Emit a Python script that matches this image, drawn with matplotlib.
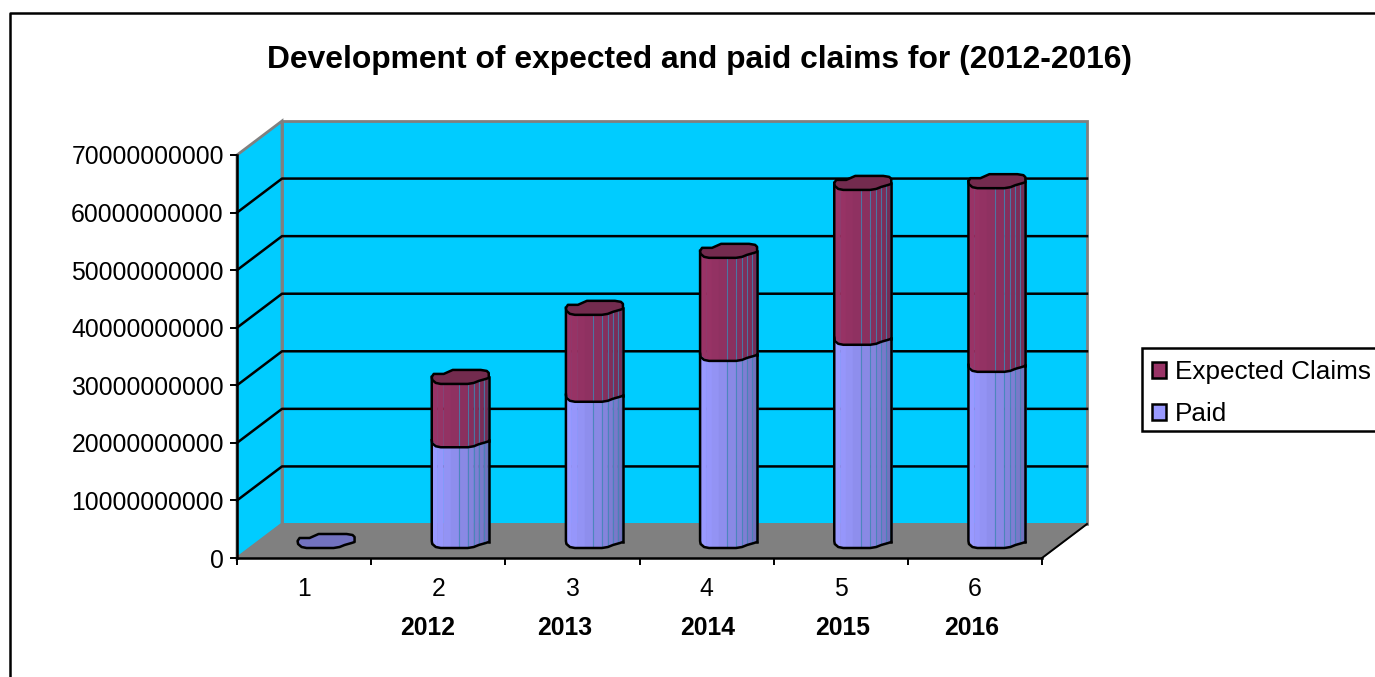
import numpy as np
import matplotlib
matplotlib.use("Agg")
import matplotlib.pyplot as plt
from matplotlib.lines import Line2D
from matplotlib.patches import Patch, Polygon, Rectangle

categories = [1, 2, 3, 4, 5, 6]
years = ["2012", "2013", "2014", "2015", "2016"]
paid = [0.0, 1.75e10, 2.54e10, 3.25e10, 3.53e10, 3.06e10]
expected_claims = [0.0, 1.10e10, 1.51e10, 1.79e10, 2.69e10, 3.19e10]
y_ticks = [0, 1e10, 2e10, 3e10, 4e10, 5e10, 6e10, 7e10]

W, H = 1375, 677
plt.rcParams["font.family"] = ["Liberation Sans", "DejaVu Sans"]

CYAN = "#00ccff"
GREY = "#808080"
PURPLE_L, PURPLE_D, PURPLE_TOP = "#993366", "#6f2b52", "#732b4e"
BLUE_L, BLUE_D, BLUE_TOP = "#9999ff", "#6c6cb4", "#7272bf"
LW = 1.8

# pixel sizes of one data unit, the plot area is 805 x 403 px
PX_X = 6 / 805
PX_Y = 7e10 / 403
DEPTH_X = 45 * PX_X
DEPTH_Y = 34 * PX_Y

# outline of the jagged cylinder, px from its centre, y pointing down
FRONT_X = np.array([-29, -28.5, -25, -20, 7, 13, 18, 25, 28, 28])
FRONT_Y = np.array([0, 3, 6, 7, 7, 6, 4, 2, 1, -4])
BACK_X = np.array([28, 26, 20, -8, -17, -27, -29])
BACK_Y = np.array([-4, -6, -7, -7, -3, -3, 0])
STRIPS = [-29, -23, -17, -10, -2, 7, 13, 18, 23, 27, 29]
SEAMS = [-2, 7, 13, 18, 23, 27]


def front_y(px):
    return np.interp(px, FRONT_X[:-1], FRONT_Y[:-1])


def draw_body(ax, cx, low, high, light, dark):
    light_c = np.array(matplotlib.colors.to_rgb(light))
    dark_c = np.array(matplotlib.colors.to_rgb(dark))
    for i in range(len(STRIPS) - 1):
        a, b = STRIPS[i], STRIPS[i + 1]
        xs = np.array([a, b, b, a])
        ys = np.array([front_y(a), front_y(b), front_y(b), front_y(a)])
        base = np.array([low, low, high, high])
        color = light_c + (dark_c - light_c) * (i / (len(STRIPS) - 2)) ** 1.3
        ax.add_patch(Polygon(np.c_[cx + xs * PX_X, base - ys * PX_Y], closed=True,
                             fc=color, ec=color, lw=0.3, clip_on=False, zorder=3))
    for s in SEAMS:
        ax.plot([cx + s * PX_X] * 2,
                [low - front_y(s) * PX_Y, high - front_y(s) * PX_Y],
                color="#3f86b4", lw=0.8, alpha=0.8, clip_on=False, zorder=3)
    # black outline: sides and the lower arc
    ox = np.r_[FRONT_X[0], FRONT_X[:-1]]
    oy = np.r_[high / PX_Y, low / PX_Y - FRONT_Y[:-1]]
    ax.plot(cx + ox * PX_X, oy * PX_Y, color="black", lw=LW, clip_on=False, zorder=4)
    ax.plot([cx + FRONT_X[-2] * PX_X] * 2, [low - FRONT_Y[-2] * PX_Y, high],
            color="black", lw=LW, clip_on=False, zorder=4)


def draw_top(ax, cx, level, color):
    xs = np.r_[FRONT_X, BACK_X]
    ys = np.r_[FRONT_Y, BACK_Y]
    ax.add_patch(Polygon(np.c_[cx + xs * PX_X, level - ys * PX_Y], closed=True,
                         fc=color, ec="black", lw=LW, joinstyle="round",
                         clip_on=False, zorder=5))


fig = plt.figure(figsize=(W / 100, H / 100), dpi=100)
ax = fig.add_axes([237 / W, (H - 558) / H, 805 / W, 403 / H])
ax.patch.set_alpha(0)
ax.set_xlim(0.5, 6.5)
ax.set_ylim(0, 7e10)

# chart frame, it runs off the right and lower edge of the picture
fig.add_artist(Line2D([10 / W, 10 / W, 1.01], [-0.01, (H - 13) / H, (H - 13) / H],
                      transform=fig.transFigure, color="black", lw=LW))

# walls and floor
x0, x1 = 0.5, 6.5
ax.add_patch(Rectangle((x0 + DEPTH_X, DEPTH_Y), x1 - x0, 7e10, fc=CYAN, ec=GREY,
                       lw=2, clip_on=False, zorder=1))
ax.add_patch(Polygon([(x0, 0), (x0 + DEPTH_X, DEPTH_Y), (x0 + DEPTH_X, 7e10 + DEPTH_Y), (x0, 7e10)],
                     closed=True, fc=CYAN, ec=GREY, lw=2, clip_on=False, zorder=1))
ax.add_patch(Polygon([(x0, 0), (x1, 0), (x1 + DEPTH_X, DEPTH_Y), (x0 + DEPTH_X, DEPTH_Y)],
                     closed=True, fc=GREY, ec=GREY, lw=1, clip_on=False, zorder=1))
for v in y_ticks[1:-1]:
    ax.plot([x0, x0 + DEPTH_X, x1 + DEPTH_X], [v, v + DEPTH_Y, v + DEPTH_Y],
            color="black", lw=LW, clip_on=False, zorder=2)
ax.plot([x1, x1 + DEPTH_X], [0, DEPTH_Y], color="black", lw=1.4, clip_on=False, zorder=2)

# bars
for c, p, e in zip(categories, paid, expected_claims):
    cx = c + DEPTH_X / 2
    base = DEPTH_Y / 2
    if p + e == 0:
        draw_top(ax, cx, base, BLUE_TOP)
        continue
    draw_body(ax, cx, base, base + p, BLUE_L, BLUE_D)
    draw_body(ax, cx, base + p, base + p + e, PURPLE_L, PURPLE_D)
    draw_top(ax, cx, base + p + e, PURPLE_TOP)

# axes
for side in ["top", "right"]:
    ax.spines[side].set_visible(False)
for side in ["left", "bottom"]:
    ax.spines[side].set_linewidth(LW)
    ax.spines[side].set_zorder(6)
ax.set_yticks(y_ticks)
ax.set_yticklabels([f"{int(v)}" for v in y_ticks])
ax.set_xticks(np.arange(0.5, 7))
ax.set_xticklabels([])
ax.set_xticks(categories, minor=True)
ax.set_xticklabels(categories, minor=True)
ax.tick_params(axis="x", which="minor", length=0, labelsize=17.8, pad=14)
ax.tick_params(axis="x", which="major", length=5, width=1.4)
ax.tick_params(axis="y", length=5, width=1.4, labelsize=17.8, pad=4.5)

# year labels sit under the categories, slightly out of line
year_x = [428, 565, 708, 843, 972]
for x, y in zip(year_x, years):
    fig.text(x / W, (H - 628) / H, y, fontsize=17.8, fontweight="bold", ha="center", va="center")

fig.text(700 / W, (H - 60) / H, "Development of expected and paid claims for (2012-2016)",
         fontsize=22.9, fontweight="bold", ha="center", va="center")

# legend box drawn on its own, it is cut by the right edge of the picture
fig.add_artist(Rectangle((1142 / W, (H - 431) / H), 240 / W, 83 / H, transform=fig.transFigure,
                         fc="white", ec="black", lw=LW))
handles = [Patch(fc=PURPLE_L, ec="black", lw=LW, label="Expected Claims"),
           Patch(fc=BLUE_L, ec="black", lw=LW, label="Paid")]
leg = fig.legend(handles=handles, loc="upper left", bbox_to_anchor=(1142 / W, (H - 350) / H),
                 fontsize=18.8, frameon=False, borderaxespad=0, borderpad=0.38,
                 handlelength=0.55, handleheight=0.55, handletextpad=0.32, labelspacing=0.71)

fig.savefig("out.png", dpi=100)
